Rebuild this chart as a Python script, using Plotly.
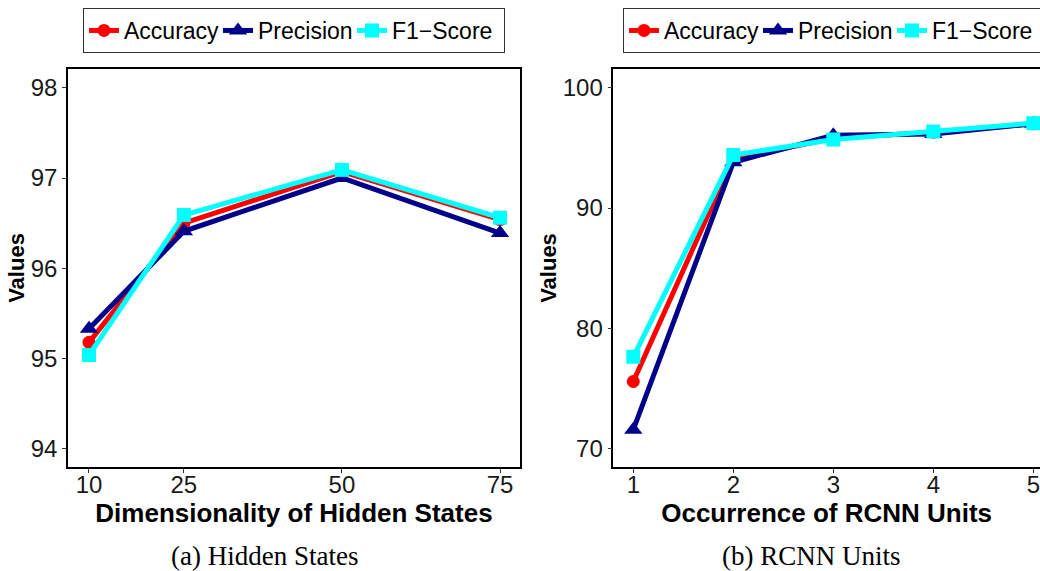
import plotly.graph_objects as go

# ---- data ----
hidden_dims = [10, 25, 50, 75]
hs_accuracy = [95.18, 96.50, 97.07, 96.54]
hs_precision = [95.33, 96.41, 97.00, 96.39]
hs_f1 = [95.04, 96.59, 97.09, 96.56]

rcnn_units = [1, 2, 3, 4, 5]
ru_accuracy = [75.6, 94.1, 95.8, 96.3, 97.0]
ru_precision = [71.6, 93.8, 96.05, 96.15, 97.0]
ru_f1 = [77.65, 94.4, 95.7, 96.35, 97.05]

series_names = ["Accuracy", "Precision", "F1\u2212Score"]
colors = ["#ff0000", "#00008b", "#00ffff"]
symbols = ["circle", "triangle-up", "square"]
msizes = [13, 16, 14]
legend_widths = [89, 89, 107]

SANS = "Liberation Sans, Arial, Helvetica, sans-serif"
SERIF = "Liberation Serif, Times New Roman, serif"

fig = go.Figure()

left_series = [hs_accuracy, hs_precision, hs_f1]
right_series = [ru_accuracy, ru_precision, ru_f1]

for name, ys, c, s, ms, lw in zip(series_names, left_series, colors, symbols, msizes, legend_widths):
    fig.add_trace(go.Scatter(
        x=hidden_dims, y=ys, name=name, mode="lines+markers",
        line=dict(color=c, width=5),
        marker=dict(color=c, symbol=s, size=ms),
        xaxis="x", yaxis="y", legend="legend", legendwidth=lw,
    ))

for name, ys, c, s, ms, lw in zip(series_names, right_series, colors, symbols, msizes, legend_widths):
    fig.add_trace(go.Scatter(
        x=rcnn_units, y=ys, name=name, mode="lines+markers",
        line=dict(color=c, width=5),
        marker=dict(color=c, symbol=s, size=ms),
        xaxis="x2", yaxis="y2", legend="legend2", legendwidth=lw,
    ))

W, H = 1040, 571
ydom = [1 - 467 / H, 1 - 69 / H]

axis_common = dict(
    showgrid=False, zeroline=False, showline=True, linecolor="black", linewidth=1.5,
    ticks="outside", ticklen=4, tickcolor="#333333", tickwidth=1,
    tickfont=dict(family=SANS, size=24, color="#1a1a1a"),
    automargin=False,
)
xtitle_font = dict(family=SANS, size=26, color="black", weight="bold")
ytitle_font = dict(family=SANS, size=22, color="black", weight="bold")
legend_font = dict(family=SANS, size=23, color="black")

fig.update_layout(
    width=W, height=H,
    margin=dict(l=0, r=0, t=0, b=0, autoexpand=False),
    paper_bgcolor="white", plot_bgcolor="white",
    xaxis=dict(domain=[68 / W, 520 / W], range=[6.68, 78.16], tickvals=hidden_dims,
               mirror=True, anchor="y", ticklabelstandoff=-9,
               title=dict(text="Dimensionality of Hidden States", font=xtitle_font, standoff=0),
               **axis_common),
    yaxis=dict(domain=ydom, range=[93.80, 98.207], tickvals=[94, 95, 96, 97, 98],
               mirror=True, anchor="x",
               title=dict(text="Values", font=ytitle_font, standoff=0),
               **axis_common),
    xaxis2=dict(domain=[613.3 / W, 1.0], range=[0.8, 5.067], tickvals=rcnn_units,
                mirror=True, anchor="y2", ticklabelstandoff=-9,
                title=dict(text="Occurrence of RCNN Units", font=xtitle_font, standoff=0),
                **axis_common),
    yaxis2=dict(domain=ydom, range=[68.5, 101.55], tickvals=[70, 80, 90, 100],
                mirror=False, anchor="x2",
                title=dict(text="Values", font=ytitle_font, standoff=0),
                **axis_common),
    legend=dict(orientation="h", x=83 / W, y=1 - 8 / H, xanchor="left", yanchor="top",
                bordercolor="#333333", borderwidth=1, bgcolor="white",
                font=legend_font, itemwidth=30, tracegroupgap=0),
    legend2=dict(orientation="h", x=623 / W, y=1 - 8 / H, xanchor="left", yanchor="top",
                 bordercolor="#333333", borderwidth=1, bgcolor="white",
                 font=legend_font, itemwidth=30, tracegroupgap=0),
    annotations=[
        dict(text="(a) Hidden States", x=264 / W, y=1 - 556 / H, xref="paper", yref="paper",
             showarrow=False, xanchor="center", yanchor="middle",
             font=dict(family=SERIF, size=27, color="black")),
        dict(text="(b) RCNN Units", x=811 / W, y=1 - 556 / H, xref="paper", yref="paper",
             showarrow=False, xanchor="center", yanchor="middle",
             font=dict(family=SERIF, size=27, color="black")),
    ],
)

fig.write_html("out.html")
